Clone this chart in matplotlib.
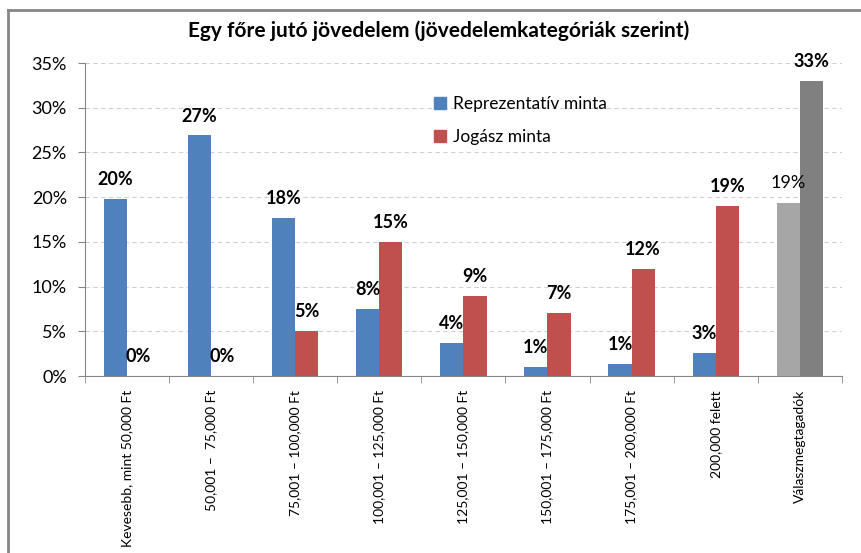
import numpy as np
from matplotlib import pyplot as plt
from matplotlib.lines import Line2D
from matplotlib.ticker import PercentFormatter

categories = ["Kevesebb, mint 50,000 Ft", "50,001 \u2013  75,000 Ft", "75,001 \u2013 100,000 Ft",
              "100,001 \u2013 125,000 Ft", "125,001 \u2013 150,000 Ft", "150,001 \u2013 175,000 Ft",
              "175,001 \u2013 200,000 Ft", "200,000 felett", "Válaszmegtagadók"]
reprezentativ = [19.8, 26.9, 17.7, 7.5, 3.7, 1.0, 1.4, 2.6, 19.4]
jogasz = [0, 0, 5, 15, 9, 7, 12, 19, 33]

plt.rcParams['font.family'] = ['Lato', 'DejaVu Sans']

blue, red = "#4F81BD", "#C0504D"
colors_a = [blue] * 8 + ["#A6A6A6"]
colors_b = [red] * 8 + ["#808080"]

fig = plt.figure(figsize=(8.61, 5.53), dpi=100)
ax = fig.add_axes([0.0987, 0.32, 0.879, 0.566])

x = np.arange(len(categories))
w = 0.275
bars_a = ax.bar(x - w / 2, reprezentativ, w, color=colors_a, zorder=3)
bars_b = ax.bar(x + w / 2, jogasz, w, color=colors_b, zorder=3)

for bars, vals in [(bars_a, reprezentativ), (bars_b, jogasz)]:
    for i, (b, v) in enumerate(zip(bars, vals)):
        weight = "normal" if (bars is bars_a and i == 8) else "bold"
        ax.annotate(f"{round(v)}%", (b.get_x() + b.get_width() / 2, v),
                    xytext=(0, 14), textcoords="offset points",
                    ha="center", va="center", fontsize=13, fontweight=weight)

ax.set_xlim(-0.5, len(categories) - 0.5)
ax.set_ylim(0, 35)
ax.set_yticks(np.arange(0, 36, 5))
ax.yaxis.set_major_formatter(PercentFormatter(decimals=0))
ax.grid(axis="y", color="#D0D0D0", linestyle=(0, (4, 3)), linewidth=0.8, zorder=0)

ax.set_xticks(x)
ax.set_xticklabels(categories, rotation=90, va="top", fontsize=10)
ax.set_xticks(np.arange(-0.5, len(categories)), minor=True)
ax.tick_params(axis="x", which="major", length=0, pad=10)
ax.tick_params(axis="x", which="minor", length=5, color="#868686")
ax.tick_params(axis="y", length=5, color="#868686", labelsize=13, pad=8)

for s in ["top", "right"]:
    ax.spines[s].set_visible(False)
for s in ["left", "bottom"]:
    ax.spines[s].set_color("#868686")

handles = [plt.Rectangle((0, 0), 1, 1, color=blue), plt.Rectangle((0, 0), 1, 1, color=red)]
ax.legend(handles, ["Reprezentatív minta", "Jogász minta"], loc="upper left",
          bbox_to_anchor=(0.44, 0.945), frameon=False, fontsize=12.5,
          handlelength=0.7, handleheight=0.7, handletextpad=0.4, labelspacing=1.0)

fig.text(0.51, 0.945, "Egy főre jutó jövedelem (jövedelemkategóriák szerint)",
         ha="center", va="center", fontsize=15, fontweight="bold")

# chart frame (left and top edges)
fig.add_artist(Line2D([0.0093, 0.0093], [0, 0.982], color="#868686", lw=2))
fig.add_artist(Line2D([0.0093, 1], [0.982, 0.982], color="#868686", lw=2))

fig.savefig("out.png", dpi=100)
